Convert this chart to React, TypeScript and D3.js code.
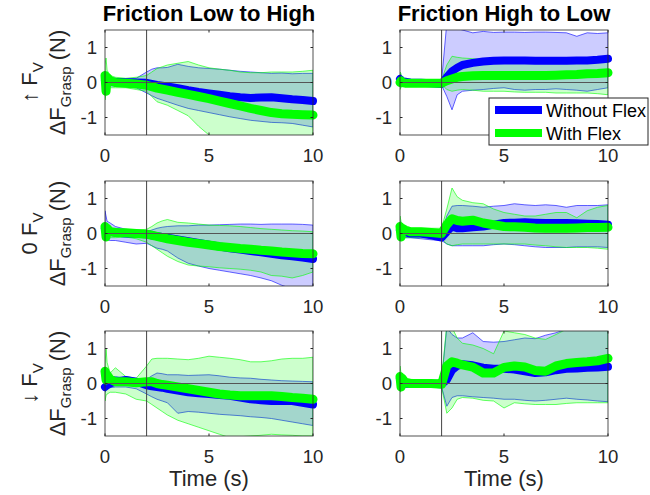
import React from "react";
import * as d3 from "d3";

// Shared time base (s) for every trace
const TIME = [0, 0.05, 0.1, 0.25, 0.5, 1, 1.5, 2, 2.25, 2.5, 2.75, 3, 3.5, 4, 4.5, 5, 5.5, 6, 6.5, 7, 7.5, 8, 8.5, 9, 9.5, 10];

const COLUMN_TITLES = ["Friction Low to High", "Friction High to Low"];
const ROW_PREFIX = ["\u2191 F", "0 F", "\u2193 F"];
const X_TICKS = [0, 5, 10];
const Y_TICKS = [-1, 0, 1];
const SERIES_NAMES = ["Without Flex", "With Flex"];
const STEP_TIME = 2;

// ---- Up F_V, friction low to high ----
const upLowHighBlueMean = [0.05, -0.05, 0.05, 0.03, 0.02, 0.01, 0.0, -0.01, -0.04, -0.07, -0.09, -0.11, -0.16, -0.22, -0.27, -0.31, -0.35, -0.39, -0.42, -0.44, -0.43, -0.42, -0.45, -0.48, -0.5, -0.53];
const upLowHighBlueUp = [0.2, 0.15, 0.12, 0.1, 0.1, 0.1, 0.12, 0.3, 0.38, 0.42, 0.42, 0.43, 0.52, 0.46, 0.42, 0.4, 0.38, 0.35, 0.32, 0.3, 0.28, 0.26, 0.27, 0.25, 0.26, 0.26];
const upLowHighBlueLo = [-0.2, -0.12, -0.1, -0.1, -0.1, -0.12, -0.15, -0.3, -0.38, -0.45, -0.5, -0.55, -0.65, -0.74, -0.8, -0.86, -0.92, -0.98, -1.03, -1.08, -1.11, -1.14, -1.15, -1.17, -1.22, -1.27];
const upLowHighGreenMean = [0.2, -0.25, 0.15, 0.05, 0.0, -0.02, -0.04, -0.08, -0.12, -0.16, -0.19, -0.22, -0.28, -0.34, -0.4, -0.46, -0.53, -0.6, -0.67, -0.74, -0.8, -0.86, -0.89, -0.91, -0.92, -0.93];
const upLowHighGreenUp = [0.5, 0.7, 0.35, 0.2, 0.15, 0.12, 0.15, 0.2, 0.3, 0.4, 0.45, 0.5, 0.55, 0.6, 0.5, 0.42, 0.38, 0.35, 0.3, 0.28, 0.28, 0.3, 0.3, 0.3, 0.32, 0.35];
const upLowHighGreenLo = [-0.5, -0.3, -0.2, -0.15, -0.15, -0.15, -0.2, -0.25, -0.4, -0.55, -0.6, -0.65, -0.8, -0.95, -1.25, -1.5, -1.65, -1.7, -1.75, -1.75, -1.75, -1.75, -1.75, -1.75, -1.75, -1.75];

// ---- Up F_V, friction high to low ----
const upHighLowBlueMean = [0.1, 0.08, 0.05, 0.02, 0.0, -0.01, -0.02, -0.04, 0.15, 0.32, 0.42, 0.5, 0.56, 0.6, 0.62, 0.63, 0.63, 0.63, 0.62, 0.62, 0.62, 0.62, 0.63, 0.63, 0.65, 0.68];
const upHighLowBlueUp = [0.25, 0.2, 0.1, 0.05, 0.03, 0.02, 0.02, 0.05, 1.7, 1.7, 1.55, 1.5, 1.42, 1.46, 1.43, 1.44, 1.44, 1.43, 1.44, 1.44, 1.43, 1.42, 1.32, 1.42, 1.4, 1.42];
const upHighLowBlueLo = [-0.15, -0.1, -0.1, -0.08, -0.08, -0.08, -0.1, -0.08, -0.4, -0.78, -0.35, -0.25, -0.22, -0.2, -0.17, -0.15, -0.2, -0.22, -0.2, -0.2, -0.18, -0.2, -0.22, -0.25, -0.2, -0.15];
const upHighLowGreenMean = [0.0, 0.05, 0.0, -0.02, -0.02, -0.02, -0.02, -0.02, 0.05, 0.1, 0.15, 0.17, 0.19, 0.2, 0.2, 0.2, 0.2, 0.2, 0.2, 0.2, 0.21, 0.22, 0.23, 0.25, 0.26, 0.28];
const upHighLowGreenUp = [0.3, 0.25, 0.1, 0.05, 0.05, 0.05, 0.05, 0.08, 0.5, 0.75, 0.72, 0.7, 0.68, 0.66, 0.65, 0.64, 0.64, 0.64, 0.63, 0.63, 0.64, 0.65, 0.65, 0.65, 0.68, 0.75];
const upHighLowGreenLo = [-0.2, -0.15, -0.1, -0.08, -0.07, -0.07, -0.07, -0.05, -0.2, -0.25, -0.22, -0.2, -0.22, -0.25, -0.25, -0.25, -0.27, -0.28, -0.28, -0.28, -0.3, -0.3, -0.3, -0.3, -0.32, -0.35];

// ---- Zero F_V, friction low to high ----
const zeroLowHighBlueMean = [0.15, 0.12, 0.08, 0.05, 0.03, 0.0, -0.01, -0.02, -0.05, -0.08, -0.1, -0.12, -0.17, -0.22, -0.27, -0.32, -0.37, -0.42, -0.46, -0.5, -0.54, -0.58, -0.62, -0.65, -0.69, -0.73];
const zeroLowHighBlueUp = [0.65, 0.5, 0.35, 0.3, 0.2, 0.12, 0.08, 0.05, 0.1, 0.15, 0.18, 0.2, 0.22, 0.22, 0.24, 0.24, 0.25, 0.26, 0.27, 0.27, 0.26, 0.27, 0.27, 0.27, 0.26, 0.24];
const zeroLowHighBlueLo = [-0.15, -0.15, -0.18, -0.2, -0.2, -0.25, -0.3, -0.28, -0.35, -0.42, -0.45, -0.5, -0.7, -0.85, -0.93, -1.0, -1.05, -1.1, -1.15, -1.2, -1.27, -1.35, -1.48, -1.58, -1.6, -1.6];
const zeroLowHighGreenMean = [0.2, -0.1, 0.15, 0.05, 0.03, 0.02, 0.0, -0.02, -0.05, -0.08, -0.12, -0.15, -0.2, -0.25, -0.29, -0.33, -0.37, -0.4, -0.43, -0.45, -0.48, -0.5, -0.53, -0.55, -0.57, -0.58];
const zeroLowHighGreenUp = [0.3, 0.25, 0.2, 0.15, 0.15, 0.1, 0.1, 0.12, 0.2, 0.3, 0.36, 0.4, 0.32, 0.3, 0.27, 0.24, 0.23, 0.22, 0.2, 0.17, 0.14, 0.12, 0.1, 0.08, 0.07, 0.05];
const zeroLowHighGreenLo = [-0.1, -0.1, -0.1, -0.12, -0.12, -0.1, -0.15, -0.25, -0.35, -0.45, -0.55, -0.65, -0.8, -0.9, -0.93, -0.95, -0.98, -1.0, -1.02, -1.05, -1.1, -1.2, -1.22, -1.27, -1.2, -1.1];

// ---- Zero F_V, friction high to low ----
const zeroHighLowBlueMean = [0.1, 0.08, 0.05, 0.03, 0.0, 0.0, -0.05, -0.12, 0.05, 0.2, 0.15, 0.15, 0.18, 0.2, 0.25, 0.3, 0.31, 0.32, 0.31, 0.3, 0.3, 0.3, 0.29, 0.28, 0.27, 0.25];
const zeroHighLowBlueUp = [0.35, 0.3, 0.2, 0.1, 0.08, 0.05, 0.05, 0.05, 0.5, 0.78, 0.8, 0.8, 0.78, 0.75, 0.78, 0.8, 0.85, 0.82, 0.8, 0.82, 0.8, 0.75, 0.8, 0.8, 0.8, 0.82];
const zeroHighLowBlueLo = [-0.1, -0.1, -0.1, -0.12, -0.12, -0.15, -0.18, -0.2, -0.3, -0.35, -0.35, -0.35, -0.35, -0.35, -0.32, -0.3, -0.32, -0.35, -0.38, -0.4, -0.4, -0.4, -0.38, -0.38, -0.38, -0.4];
const zeroHighLowGreenMean = [0.2, -0.1, 0.15, 0.1, 0.05, 0.05, 0.03, 0.0, 0.25, 0.42, 0.37, 0.35, 0.38, 0.3, 0.25, 0.2, 0.19, 0.18, 0.16, 0.15, 0.15, 0.15, 0.16, 0.17, 0.17, 0.18];
const zeroHighLowGreenUp = [0.5, 0.35, 0.2, 0.15, 0.15, 0.15, 0.15, 0.15, 0.7, 1.3, 1.05, 0.95, 0.88, 0.85, 0.7, 0.6, 0.55, 0.5, 0.5, 0.55, 0.6, 0.6, 0.45, 0.65, 0.75, 0.8];
const zeroHighLowGreenLo = [-0.2, -0.15, -0.15, -0.12, -0.12, -0.12, -0.12, -0.15, -0.3, -0.35, -0.32, -0.3, -0.3, -0.3, -0.3, -0.3, -0.3, -0.3, -0.33, -0.35, -0.38, -0.4, -0.4, -0.4, -0.42, -0.45];

// ---- Down F_V, friction low to high ----
const downLowHighBlueMean = [-0.1, -0.08, -0.05, 0.0, 0.05, 0.1, 0.05, -0.05, -0.08, -0.1, -0.12, -0.15, -0.2, -0.25, -0.28, -0.3, -0.33, -0.35, -0.4, -0.45, -0.48, -0.5, -0.5, -0.5, -0.55, -0.6];
const downLowHighBlueUp = [0.15, 0.15, 0.15, 0.2, 0.2, 0.15, 0.12, 0.12, 0.22, 0.3, 0.28, 0.25, 0.25, 0.23, 0.24, 0.25, 0.22, 0.18, 0.16, 0.15, 0.12, 0.1, 0.08, 0.07, 0.06, 0.05];
const downLowHighBlueLo = [-0.25, -0.2, -0.15, -0.12, -0.1, -0.1, -0.15, -0.3, -0.38, -0.45, -0.5, -0.55, -0.85, -0.8, -0.82, -0.85, -0.88, -0.9, -0.92, -0.95, -0.97, -1.0, -1.05, -1.1, -1.15, -1.2];
const downLowHighGreenMean = [0.35, 0.1, 0.25, 0.12, 0.05, 0.05, 0.02, 0.05, 0.05, 0.0, -0.03, -0.05, -0.1, -0.15, -0.2, -0.25, -0.3, -0.33, -0.35, -0.35, -0.35, -0.35, -0.37, -0.4, -0.42, -0.45];
const downLowHighGreenUp = [0.5, 1.0, 0.6, 0.3, 0.45, 0.2, 0.15, 0.5, 0.7, 0.72, 0.72, 0.72, 0.7, 0.68, 0.72, 0.78, 0.75, 0.72, 0.68, 0.62, 0.62, 0.65, 0.7, 0.72, 0.72, 0.75];
const downLowHighGreenLo = [-0.5, -0.35, -0.3, -0.25, -0.25, -0.3, -0.45, -0.5, -0.6, -0.7, -0.8, -0.9, -1.05, -1.15, -1.25, -1.35, -1.45, -1.55, -1.52, -1.5, -1.48, -1.45, -1.47, -1.48, -1.5, -1.5];

// ---- Down F_V, friction high to low ----
const downHighLowBlueMean = [0.15, 0.1, 0.05, 0.0, 0.0, 0.0, -0.01, -0.02, 0.1, 0.38, 0.5, 0.55, 0.52, 0.45, 0.42, 0.42, 0.4, 0.35, 0.3, 0.32, 0.38, 0.42, 0.43, 0.45, 0.46, 0.48];
const downHighLowBlueUp = [0.3, 0.2, 0.15, 0.1, 0.1, 0.08, 0.08, 0.1, 1.6, 1.4, 1.3, 1.3, 1.45, 1.2, 1.18, 1.2, 1.25, 1.3, 1.28, 1.38, 1.45, 1.55, 1.6, 1.65, 1.7, 1.7];
const downHighLowBlueLo = [-0.2, -0.15, -0.12, -0.1, -0.1, -0.1, -0.1, -0.1, -0.65, -0.4, -0.35, -0.35, -0.38, -0.4, -0.42, -0.45, -0.45, -0.48, -0.5, -0.48, -0.45, -0.42, -0.45, -0.47, -0.5, -0.52];
const downHighLowGreenMean = [0.2, -0.1, 0.15, 0.03, 0.0, 0.0, 0.0, -0.02, 0.5, 0.62, 0.58, 0.53, 0.47, 0.3, 0.3, 0.46, 0.5, 0.47, 0.37, 0.35, 0.5, 0.57, 0.6, 0.62, 0.65, 0.72];
const downHighLowGreenUp = [0.5, 0.3, 0.2, 0.15, 0.12, 0.1, 0.1, 0.12, 1.7, 1.6, 1.3, 1.15, 1.1, 1.0, 0.85, 1.5, 1.45, 1.4, 1.3, 1.26, 1.4, 1.55, 1.65, 1.7, 1.7, 1.7];
const downHighLowGreenLo = [-0.25, -0.2, -0.15, -0.12, -0.1, -0.1, -0.1, -0.1, -0.85, -0.7, -0.45, -0.4, -0.42, -0.48, -0.5, -0.7, -0.55, -0.58, -0.6, -0.6, -0.6, -0.57, -0.55, -0.55, -0.55, -0.55];

type Trace = { mean: number[]; up: number[]; lo: number[] };
type Panel = { row: number; col: number; blue: Trace; green: Trace };

const PANELS: Panel[] = [
  { row: 0, col: 0, blue: { mean: upLowHighBlueMean, up: upLowHighBlueUp, lo: upLowHighBlueLo }, green: { mean: upLowHighGreenMean, up: upLowHighGreenUp, lo: upLowHighGreenLo } },
  { row: 0, col: 1, blue: { mean: upHighLowBlueMean, up: upHighLowBlueUp, lo: upHighLowBlueLo }, green: { mean: upHighLowGreenMean, up: upHighLowGreenUp, lo: upHighLowGreenLo } },
  { row: 1, col: 0, blue: { mean: zeroLowHighBlueMean, up: zeroLowHighBlueUp, lo: zeroLowHighBlueLo }, green: { mean: zeroLowHighGreenMean, up: zeroLowHighGreenUp, lo: zeroLowHighGreenLo } },
  { row: 1, col: 1, blue: { mean: zeroHighLowBlueMean, up: zeroHighLowBlueUp, lo: zeroHighLowBlueLo }, green: { mean: zeroHighLowGreenMean, up: zeroHighLowGreenUp, lo: zeroHighLowGreenLo } },
  { row: 2, col: 0, blue: { mean: downLowHighBlueMean, up: downLowHighBlueUp, lo: downLowHighBlueLo }, green: { mean: downLowHighGreenMean, up: downLowHighGreenUp, lo: downLowHighGreenLo } },
  { row: 2, col: 1, blue: { mean: downHighLowBlueMean, up: downHighLowBlueUp, lo: downHighLowBlueLo }, green: { mean: downHighLowGreenMean, up: downHighLowGreenUp, lo: downHighLowGreenLo } },
];

// Layout
const W = 650;
const H = 495;
const COL_X = [105, 400];
const ROW_Y = [30, 181, 331];
const PW = 208;
const PH = 105;
const FONT = "'Liberation Sans', Arial, Helvetica, sans-serif";
const AXIS_COLOR = "#262626";
const BLUE = "#0000ff";
const GREEN = "#00ff00";

const x = d3.scaleLinear().domain([0, 10]).range([0, PW]);
const y = d3.scaleLinear().domain([-1.5, 1.5]).range([PH, 0]);

const band = d3
  .area<number>()
  .x((_, i) => x(TIME[i]))
  .y0((d) => y(d));

function bandPath(tr: Trace) {
  return d3
    .area<number>()
    .x((_, i) => x(TIME[i]))
    .y0((_, i) => y(tr.lo[i]))
    .y1((_, i) => y(tr.up[i]))(tr.mean) as string;
}

const meanLine = d3
  .line<number>()
  .x((_, i) => x(TIME[i]))
  .y((d) => y(d));

function PanelView({ p, idx }: { p: Panel; idx: number }) {
  const tx = COL_X[p.col];
  const ty = ROW_Y[p.row];
  const clipId = `clip-${idx}`;
  return (
    <g transform={`translate(${tx},${ty})`}>
      <defs>
        <clipPath id={clipId}>
          <rect x={0} y={0} width={PW} height={PH} />
        </clipPath>
      </defs>
      <rect x={0} y={0} width={PW} height={PH} fill="#fff" />
      <g clipPath={`url(#${clipId})`}>
        <path d={bandPath(p.blue)} fill={BLUE} fillOpacity={0.2} stroke={BLUE} strokeOpacity={0.6} strokeWidth={1} />
        <path d={bandPath(p.green)} fill={GREEN} fillOpacity={0.2} stroke={GREEN} strokeOpacity={0.6} strokeWidth={1} />
      </g>
      <path d={meanLine(p.blue.mean) as string} fill="none" stroke={BLUE} strokeWidth={8} strokeLinecap="round" strokeLinejoin="round" />
      <path d={meanLine(p.green.mean) as string} fill="none" stroke={GREEN} strokeWidth={9} strokeLinecap="round" strokeLinejoin="round" />
      {/* baseline and step onset */}
      <line x1={x(0)} x2={x(10)} y1={y(0)} y2={y(0)} stroke="#555" strokeWidth={1} />
      <line x1={x(STEP_TIME)} x2={x(STEP_TIME)} y1={0} y2={PH} stroke="#444" strokeWidth={1} />
      {/* axes box */}
      <rect x={0} y={0} width={PW} height={PH} fill="none" stroke={AXIS_COLOR} strokeWidth={1} strokeOpacity={0.8} />
      {X_TICKS.map((t) => (
        <g key={`xt${t}`}>
          <line x1={x(t)} x2={x(t)} y1={PH} y2={PH - 2.5} stroke={AXIS_COLOR} />
          <line x1={x(t)} x2={x(t)} y1={0} y2={2.5} stroke={AXIS_COLOR} />
          <text x={x(t)} y={PH + 27} textAnchor="middle" fontSize={18.6} fill={AXIS_COLOR} fontFamily={FONT}>
            {t}
          </text>
        </g>
      ))}
      {Y_TICKS.map((t) => (
        <g key={`yt${t}`}>
          <line x1={0} x2={2.5} y1={y(t)} y2={y(t)} stroke={AXIS_COLOR} />
          <line x1={PW} x2={PW - 2.5} y1={y(t)} y2={y(t)} stroke={AXIS_COLOR} />
          <text x={-8} y={y(t) + 6.6} textAnchor="end" fontSize={18.6} fill={AXIS_COLOR} fontFamily={FONT}>
            {t}
          </text>
        </g>
      ))}
    </g>
  );
}

export default function App() {
  return (
    <svg width={W} height={H} style={{ position: "absolute", left: 0, top: 0 }} fontFamily={FONT}>
      <rect width={W} height={H} fill="#fff" />
      {PANELS.map((p, i) => (
        <PanelView key={i} p={p} idx={i} />
      ))}
      {COLUMN_TITLES.map((t, c) => (
        <text key={t} x={COL_X[c] + PW / 2} y={21} textAnchor="middle" fontSize={22} fontWeight="bold" fill="#000">
          {t}
        </text>
      ))}
      {ROW_PREFIX.map((pre, r) => {
        const cy = ROW_Y[r] + PH / 2;
        return (
          <g key={pre}>
            <text transform={`translate(37,${cy}) rotate(-90)`} textAnchor="middle" fontSize={22} fill={AXIS_COLOR}>
              {pre}
              <tspan fontSize={15} dy={6}>V</tspan>
            </text>
            <text transform={`translate(65,${cy}) rotate(-90)`} textAnchor="middle" fontSize={22} fill={AXIS_COLOR}>
              {"\u0394F"}
              <tspan fontSize={15} dy={6}>Grasp</tspan>
              <tspan dy={-6}>{" (N)"}</tspan>
            </text>
          </g>
        );
      })}
      {COL_X.map((cx, c) => (
        <text key={`xl${c}`} x={cx + PW / 2} y={486} textAnchor="middle" fontSize={22} fill={AXIS_COLOR}>
          Time (s)
        </text>
      ))}
      {/* legend */}
      <g transform="translate(489,98)">
        <rect x={0} y={0} width={159} height={47} fill="#fff" stroke={AXIS_COLOR} strokeWidth={1} />
        {SERIES_NAMES.map((name, i) => (
          <g key={name} transform={`translate(0,${12 + i * 23})`}>
            <line x1={6} x2={53} y1={0} y2={0} stroke={i === 0 ? BLUE : GREEN} strokeWidth={8} />
            <text x={57} y={6.5} fontSize={18} fill="#000">
              {name}
            </text>
          </g>
        ))}
      </g>
    </svg>
  );
}
